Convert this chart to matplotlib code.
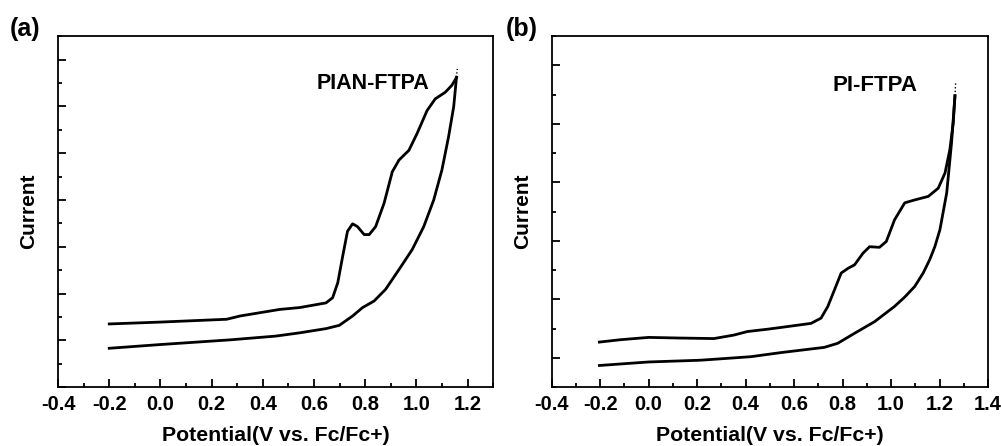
import matplotlib.pyplot as plt
from matplotlib.ticker import MultipleLocator, NullFormatter

plt.rcParams['font.family'] = ['Liberation Sans', 'DejaVu Sans']
plt.rcParams['font.weight'] = 'bold'
plt.rcParams['axes.unicode_minus'] = False

# (a) PIAN-FTPA, forward scan then reverse scan
a_fwd_x = [-0.2, 0.0, 0.259, 0.311, 0.466, 0.544, 0.647, 0.673, 0.693, 0.712, 0.731,
           0.751, 0.770, 0.796, 0.816, 0.841, 0.874, 0.906, 0.932, 0.971, 1.003,
           1.042, 1.074, 1.113, 1.139, 1.152, 1.157]
a_fwd_y = [0.35, 0.39, 0.45, 0.52, 0.66, 0.70, 0.80, 0.91, 1.23, 1.79, 2.33,
           2.49, 2.43, 2.26, 2.26, 2.43, 2.93, 3.60, 3.85, 4.06, 4.42,
           4.91, 5.16, 5.30, 5.45, 5.57, 5.62]
a_rev_x = [1.157, 1.146, 1.126, 1.10, 1.068, 1.029, 0.984, 0.932, 0.880, 0.835,
           0.790, 0.751, 0.699, 0.647, 0.544, 0.45, 0.272, 0.0, -0.2]
a_rev_y = [5.62, 4.99, 4.35, 3.64, 3.00, 2.43, 1.94, 1.51, 1.09, 0.84,
           0.70, 0.52, 0.32, 0.25, 0.16, 0.09, 0.01, -0.09, -0.17]
a_tip_x = [1.157, 1.160]
a_tip_y = [5.62, 5.80]

# (b) PI-FTPA
b_fwd_x = [-0.203, -0.117, 0.0, 0.117, 0.269, 0.352, 0.407, 0.49, 0.545, 0.670,
           0.711, 0.739, 0.766, 0.794, 0.822, 0.849, 0.884, 0.911, 0.952, 0.980,
           1.014, 1.056, 1.097, 1.153, 1.194, 1.222, 1.242, 1.256, 1.263]
b_fwd_y = [0.27, 0.31, 0.35, 0.34, 0.33, 0.39, 0.45, 0.49, 0.52, 0.59,
           0.68, 0.88, 1.16, 1.45, 1.53, 1.59, 1.79, 1.90, 1.89, 1.99,
           2.36, 2.65, 2.70, 2.76, 2.90, 3.16, 3.56, 4.02, 4.48]
b_rev_x = [1.263, 1.249, 1.229, 1.201, 1.180, 1.159, 1.132, 1.097, 1.056, 1.014,
           0.932, 0.849, 0.780, 0.725, 0.545, 0.421, 0.214, 0.0, -0.203]
b_rev_y = [4.48, 3.68, 2.82, 2.19, 1.90, 1.68, 1.45, 1.22, 1.04, 0.88,
           0.62, 0.42, 0.25, 0.18, 0.09, 0.02, -0.04, -0.07, -0.13]
b_tip_x = [1.263, 1.266]
b_tip_y = [4.48, 4.71]

fig = plt.figure(figsize=(10.01, 4.46), dpi=100)
ax1 = fig.add_axes([0.058, 0.132, 0.4346, 0.787])
ax2 = fig.add_axes([0.551, 0.132, 0.4362, 0.787])


def style(ax, xlim, ylim, xmajor):
    ax.set_xlim(*xlim)
    ax.set_ylim(*ylim)
    ax.xaxis.set_major_locator(MultipleLocator(xmajor))
    ax.xaxis.set_minor_locator(MultipleLocator(xmajor / 2))
    ax.yaxis.set_major_locator(MultipleLocator(1))
    ax.yaxis.set_minor_locator(MultipleLocator(0.5))
    ax.yaxis.set_major_formatter(NullFormatter())
    ax.tick_params(which='both', direction='in', top=False, right=False, width=1.3)
    ax.tick_params(which='major', length=6, labelsize=14.5, pad=6)
    ax.tick_params(which='minor', length=3)
    for lab in ax.get_xticklabels():
        lab.set_fontweight('bold')
    for s in ax.spines.values():
        s.set_linewidth(1.3)
    ax.set_xlabel('Potential(V vs. Fc/Fc+)', fontsize=15.3, fontweight='bold', labelpad=8)
    ax.set_ylabel('Current', fontsize=15, fontweight='bold', labelpad=8)


ax1.plot(a_fwd_x, a_fwd_y, color='black', lw=2, solid_joinstyle='round')
ax1.plot(a_rev_x, a_rev_y, color='black', lw=2, solid_joinstyle='round')
ax1.plot(a_tip_x, a_tip_y, color='black', lw=1, ls=':')
style(ax1, (-0.4, 1.3), (-1, 6.5), 0.2)
ax1.text(0.83, 5.49, 'PIAN-FTPA', ha='center', va='center', fontsize=15.5, fontweight='bold')

ax2.plot(b_fwd_x, b_fwd_y, color='black', lw=2, solid_joinstyle='round')
ax2.plot(b_rev_x, b_rev_y, color='black', lw=2, solid_joinstyle='round')
ax2.plot(b_tip_x, b_tip_y, color='black', lw=1, ls=':')
style(ax2, (-0.4, 1.4), (-0.5, 5.5), 0.2)
ax2.text(0.935, 4.65, 'PI-FTPA', ha='center', va='center', fontsize=16, fontweight='bold')

fig.text(0.010, 0.935, '(a)', fontsize=18, fontweight='bold', va='center')
fig.text(0.505, 0.935, '(b)', fontsize=18, fontweight='bold', va='center')

fig.savefig('out.png', dpi=100)
